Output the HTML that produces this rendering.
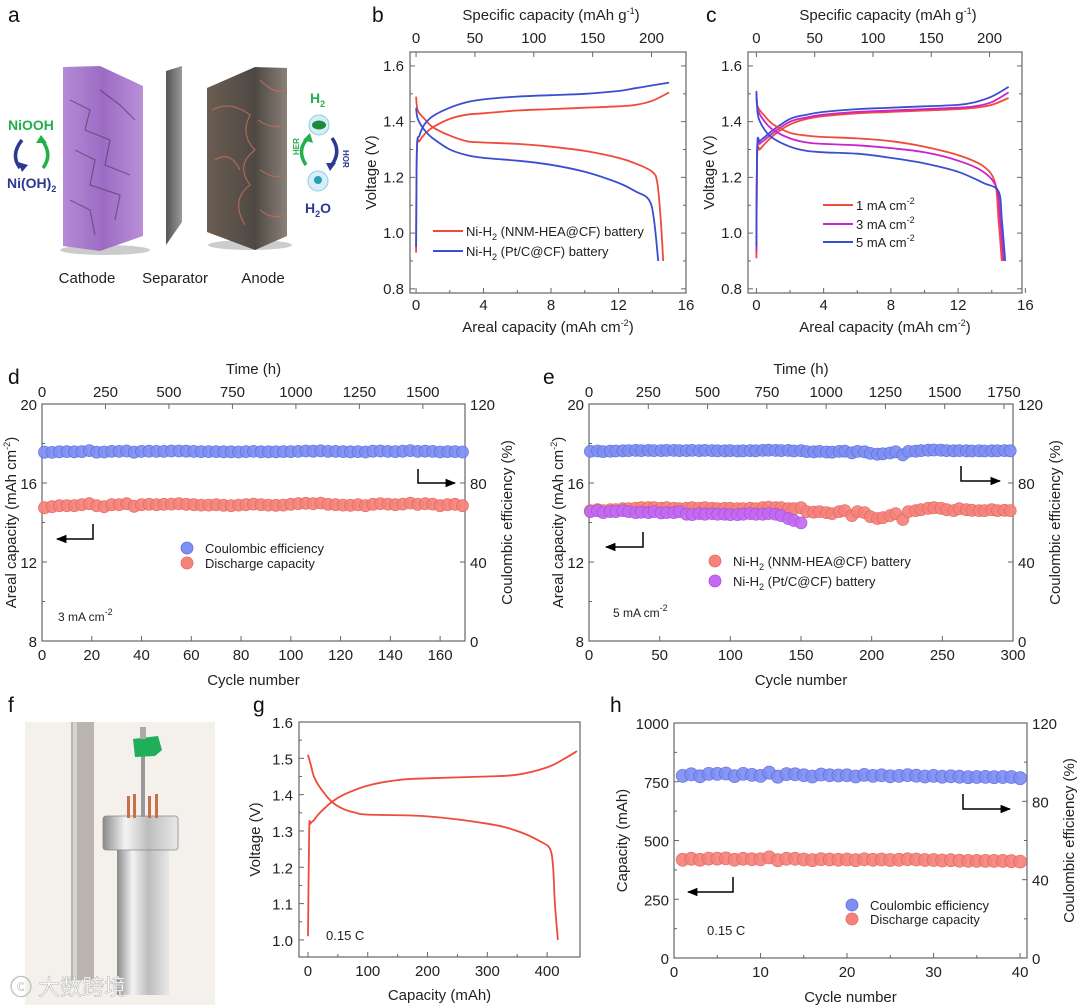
<!DOCTYPE html>
<html><head><meta charset="utf-8"><style>
html,body{margin:0;padding:0;background:#fff;}
svg{display:block;font-family:"Liberation Sans","Noto Sans CJK SC",sans-serif;}
</style></head><body>
<svg id="fig" width="1080" height="1005" viewBox="0 0 1080 1005" xmlns="http://www.w3.org/2000/svg">
<defs>
<linearGradient id="gCath" x1="0" x2="1"><stop offset="0" stop-color="#b58ad6"/><stop offset="0.5" stop-color="#9c6cc4"/><stop offset="1" stop-color="#b98fd8"/></linearGradient>
<linearGradient id="gSep" x1="0" x2="1"><stop offset="0" stop-color="#555"/><stop offset="1" stop-color="#999"/></linearGradient>
<linearGradient id="gAn" x1="0" x2="1"><stop offset="0" stop-color="#6b5d52"/><stop offset="0.6" stop-color="#4e4843"/><stop offset="1" stop-color="#8a8178"/></linearGradient>
<linearGradient id="gCyl" x1="0" x2="1"><stop offset="0" stop-color="#8a8a8a"/><stop offset="0.3" stop-color="#f4f4f4"/><stop offset="0.6" stop-color="#bdbdbd"/><stop offset="1" stop-color="#e8e8e8"/></linearGradient>
<marker id="ah" viewBox="0 0 10 10" refX="9" refY="5" markerWidth="7" markerHeight="7" orient="auto"><path d="M0,1 L10,5 L0,9 z" fill="#000"/></marker>
</defs>
<g font-size="21" fill="#111">
<text x="8" y="22">a</text>
<text x="372" y="22">b</text>
<text x="706" y="22">c</text>
<text x="8" y="384">d</text>
<text x="543" y="384">e</text>
<text x="8" y="712">f</text>
<text x="253" y="712">g</text>
<text x="610" y="712">h</text>
</g>
<g>
<ellipse cx="105" cy="250" rx="45" ry="5" fill="#ccc"/>
<polygon points="63,67 100,66 143,86 143,236 100,251 63,246" fill="url(#gCath)"/>
<g stroke="#4a3a55" stroke-width="1.2" fill="none" opacity="0.6">
<path d="M70,100 L90,110 L85,130 L110,140 L105,165 L130,175 M75,150 L95,160 L90,185 L120,195 L115,220 M100,90 L120,105 L135,120 M70,200 L90,210 L95,235"/>
</g>
<polygon points="166,71 182,66 182,222 166,245" fill="url(#gSep)"/>
<ellipse cx="250" cy="245" rx="42" ry="5" fill="#ccc"/>
<polygon points="207,88 255,67 287,68 287,236 255,250 207,232" fill="url(#gAn)"/>
<g stroke="#c0705a" stroke-width="1.3" fill="none" opacity="0.75">
<path d="M212,110 Q230,100 250,115 Q240,135 255,150 Q235,165 250,185 Q230,200 245,225 M215,160 Q230,150 240,170 M260,80 Q275,95 285,90 M258,120 Q272,130 284,125 M260,170 Q275,180 284,175 M260,210 Q272,220 284,215"/>
</g>
<text x="87" y="283" font-size="15" fill="#222" text-anchor="middle">Cathode</text>
<text x="175" y="283" font-size="15" fill="#222" text-anchor="middle">Separator</text>
<text x="263" y="283" font-size="15" fill="#222" text-anchor="middle">Anode</text>
<text x="8" y="130" font-size="14" font-weight="bold" fill="#21b04b">NiOOH</text>
<path d="M22,140 Q10,155 20,168" stroke="#2b3990" stroke-width="3.5" fill="none"/>
<path d="M18,162 L22,172 L28,165 z" fill="#2b3990"/>
<path d="M43,168 Q53,155 42,140" stroke="#21b04b" stroke-width="3.5" fill="none"/>
<path d="M36,143 L41,135 L47,143 z" fill="#21b04b"/>
<text x="7" y="188" font-size="14" font-weight="bold" fill="#2b3990">Ni(OH)<tspan dy="4" font-size="9">2</tspan></text>
<text x="310" y="103" font-size="14" font-weight="bold" fill="#21b04b">H<tspan dy="4" font-size="9">2</tspan></text>
<circle cx="319" cy="125" r="10" fill="#d6eef8" stroke="#8ccbe6"/>
<ellipse cx="319" cy="125" rx="7" ry="4.5" fill="#1b8a3a"/>
<circle cx="318" cy="181" r="10" fill="#d6eef8" stroke="#8ccbe6"/>
<circle cx="318" cy="180" r="4" fill="#2a9fb5"/>
<path d="M306,165 Q296,150 308,138" stroke="#21b04b" stroke-width="3.5" fill="none"/>
<path d="M303,140 L310,133 L313,143 z" fill="#21b04b"/>
<path d="M332,138 Q342,152 331,166" stroke="#2b3990" stroke-width="3.5" fill="none"/>
<path d="M326,163 L330,171 L336,163 z" fill="#2b3990"/>
<text x="294" y="160" font-size="8" font-weight="bold" fill="#21b04b" transform="rotate(-90 294 155)">HER</text>
<text x="343" y="150" font-size="8" font-weight="bold" fill="#2b3990" transform="rotate(90 343 150)">HOR</text>
<text x="305" y="213" font-size="14" font-weight="bold" fill="#2b3990">H<tspan dy="4" font-size="9">2</tspan><tspan dy="-4">O</tspan></text>
</g>
<g>
<rect x="25" y="722" width="190" height="283" fill="#f4f1ec"/>
<rect x="71" y="722" width="23" height="258" fill="#b9b4ae"/>
<rect x="73" y="722" width="4" height="258" fill="#d6d2cc"/>
<rect x="117" y="850" width="52" height="145" fill="url(#gCyl)"/>
<rect x="103" y="816" width="75" height="34" rx="3" fill="url(#gCyl)" stroke="#888" stroke-width="0.8"/>
<rect x="141" y="755" width="4" height="62" fill="#999"/>
<polygon points="133,739 158,736 162,750 155,756 135,757" fill="#1fae5a"/>
<rect x="140" y="727" width="6" height="12" fill="#aaa"/>
<rect x="127" y="796" width="3" height="22" fill="#c7704a"/><rect x="133" y="794" width="3" height="24" fill="#c7704a"/>
<rect x="148" y="796" width="3" height="22" fill="#c7704a"/><rect x="155" y="794" width="3" height="24" fill="#c7704a"/>
<text x="10" y="995" font-size="22" fill="#fff" stroke="#bbb" stroke-width="0.6">ⓒ 大数跨境</text>
</g>
<g id="charts"></g>
</svg>
<script>
const bNnmChargeX=[0,0.05,0.2,0.5,1,2,3,4,6,8,10,12,13,14,15];
const bNnmChargeV=[0.93,1.30,1.33,1.355,1.38,1.41,1.425,1.43,1.44,1.445,1.45,1.455,1.46,1.475,1.505];
const bNnmDisX=[0,0.1,0.5,1,2,3,4,6,8,10,12,13,14,14.3,14.5,14.65];
const bNnmDisV=[1.49,1.44,1.41,1.38,1.35,1.33,1.325,1.32,1.31,1.295,1.27,1.25,1.22,1.18,1.05,0.90];
const bPtChargeX=[0,0.05,0.2,0.5,1,2,3,4,6,8,10,12,13,14,15];
const bPtChargeV=[0.95,1.30,1.35,1.39,1.42,1.45,1.47,1.48,1.49,1.495,1.50,1.51,1.52,1.53,1.54];
const bPtDisX=[0,0.1,0.5,1,2,3,4,6,8,10,12,13,13.8,14.1,14.35];
const bPtDisV=[1.45,1.41,1.37,1.34,1.30,1.28,1.27,1.26,1.245,1.22,1.18,1.15,1.12,1.05,0.90];

const cChargeX=[0,0.05,0.2,0.5,1,2,3,4,6,8,10,12,13,14,15];
const c1ChargeV=[0.91,1.28,1.30,1.32,1.35,1.39,1.41,1.42,1.43,1.435,1.44,1.445,1.45,1.46,1.485];
const c3ChargeV=[0.93,1.30,1.32,1.335,1.36,1.40,1.415,1.425,1.435,1.44,1.445,1.45,1.455,1.47,1.505];
const c5ChargeV=[0.95,1.31,1.33,1.345,1.37,1.41,1.425,1.435,1.445,1.45,1.455,1.46,1.47,1.49,1.525];
const c1DisX=[0,0.1,0.5,1,2,3,4,6,8,10,12,13.5,14.2,14.4,14.6];
const c1DisV=[1.48,1.45,1.42,1.39,1.36,1.35,1.345,1.34,1.33,1.31,1.28,1.24,1.18,1.05,0.90];
const c3DisX=[0,0.1,0.5,1,2,3,4,6,8,10,12,13.5,14.3,14.5,14.7];
const c3DisV=[1.50,1.44,1.40,1.37,1.34,1.325,1.32,1.315,1.305,1.29,1.26,1.22,1.16,1.05,0.90];
const c5DisX=[0,0.1,0.5,1,2,3,4,6,8,10,12,13.5,14.4,14.6,14.8];
const c5DisV=[1.51,1.42,1.37,1.34,1.31,1.295,1.29,1.285,1.27,1.25,1.22,1.18,1.15,1.05,0.90];

const dCycles=[1,4,7,10,13,16,19,22,25,28,31,34,37,40,43,46,49,52,55,58,61,64,67,70,73,76,79,82,85,88,91,94,97,100,103,106,109,112,115,118,121,124,127,130,133,136,139,142,145,148,151,154,157,160,163,166,169];
const dCE=[95.6,95.5,95.8,95.9,95.8,95.9,96.4,95.6,95.7,96.0,96.0,96.2,95.6,96.0,96.1,96.0,96.0,96.2,96.2,96.1,96.0,95.9,95.9,95.9,95.8,95.8,95.7,95.9,96.0,95.8,95.8,95.8,95.9,95.9,96.0,96.2,96.1,96.3,96.0,96.0,95.9,95.8,95.9,95.7,96.1,96.2,96.0,95.9,96.1,96.4,96.0,96.1,96.0,95.7,95.9,95.9,95.7];
const dCap=[14.75,14.8,14.85,14.85,14.85,14.9,14.95,14.85,14.8,14.9,14.9,14.95,14.82,14.9,14.92,14.9,14.92,14.93,14.95,14.92,14.9,14.88,14.88,14.9,14.87,14.85,14.88,14.9,14.93,14.9,14.88,14.87,14.88,14.92,14.95,14.97,14.95,14.98,14.92,14.9,14.88,14.87,14.9,14.85,14.92,14.95,14.93,14.9,14.93,14.98,14.92,14.95,14.93,14.85,14.9,14.92,14.85];

const eCycles=[1,6,10,15,19,24,28,33,37,42,46,51,55,60,64,69,73,78,82,87,91,96,100,105,109,114,118,123,127,132,136,141,145,150,154,159,163,168,172,177,181,186,190,195,199,204,208,213,217,222,226,231,235,240,244,249,253,258,262,267,271,276,280,285,289,294,298];
const eCE=[96.0,96.2,95.9,96.1,96.2,96.3,96.4,96.5,96.4,96.5,
96.4,96.4,96.5,96.5,96.4,96.4,96.5,96.4,96.5,96.4,
96.3,96.3,96.4,96.2,96.3,96.4,96.3,96.5,96.6,96.5,
96.4,96.5,96.2,96.4,95.9,95.8,96.0,95.7,95.6,96.0,
96.1,95.3,96.0,95.8,95.0,94.6,94.8,95.2,95.8,94.3,
96.0,96.1,96.4,96.6,96.7,96.6,96.4,96.3,96.4,96.3,
96.2,96.3,96.2,96.3,96.3,96.4,96.3];
const eCap=[14.6,14.65,14.6,14.65,14.65,14.7,14.7,14.72,14.75,14.75,
14.75,14.72,14.75,14.72,14.7,14.72,14.75,14.72,14.75,14.72,
14.7,14.72,14.72,14.7,14.7,14.72,14.7,14.75,14.78,14.75,
14.75,14.7,14.7,14.75,14.55,14.52,14.55,14.5,14.45,14.55,
14.6,14.35,14.55,14.5,14.3,14.2,14.25,14.35,14.45,14.15,
14.55,14.6,14.65,14.72,14.75,14.72,14.65,14.6,14.7,14.65,
14.62,14.6,14.6,14.65,14.6,14.62,14.6];
const ePtCycles=[1,6,10,15,19,24,28,33,37,42,46,51,55,60,64,69,73,78,82,87,91,96,100,105,109,114,118,123,127,132,136,141,145,150];
const ePtCap=[14.55,14.6,14.5,14.55,14.55,14.6,14.55,14.5,14.52,14.5,
14.55,14.48,14.5,14.5,14.55,14.42,14.4,14.45,14.42,14.45,
14.42,14.42,14.4,14.4,14.42,14.45,14.42,14.42,14.45,14.42,
14.35,14.2,14.1,13.98];

const gChargeX=[0,2,4,10,20,40,60,100,150,200,300,350,400,430,450];
const gChargeV=[1.01,1.30,1.32,1.33,1.35,1.38,1.40,1.425,1.44,1.445,1.45,1.455,1.475,1.50,1.52];
const gDisX=[0,5,10,20,40,60,80,100,200,300,350,390,405,410,413,418];
const gDisV=[1.51,1.48,1.45,1.42,1.38,1.36,1.35,1.345,1.34,1.32,1.30,1.27,1.25,1.20,1.10,1.00];

const hCycles=[1,2,3,4,5,6,7,8,9,10,11,12,13,14,15,16,17,18,19,20,21,22,23,24,25,26,27,28,29,30,31,32,33,34,35,36,37,38,39,40];
const hCE=[93.0,93.8,92.8,94.0,94.0,94.2,92.9,94.0,93.5,93.0,94.6,92.6,93.9,93.8,93.3,92.7,93.7,93.3,93.2,93.3,92.7,93.5,93.0,93.3,92.8,93.0,93.4,93.1,92.7,93.0,92.6,92.8,92.6,92.3,92.4,92.5,92.3,92.4,92.4,91.8];
const hCap=[418,422,418,423,423,424,418,422,420,420,428,416,422,422,419,416,421,419,418,419,416,420,418,419,417,418,420,419,417,417,415,416,414,413,413,413,413,413,412,410];

const bcBottomTicks=[0,4,8,12,16];
const bcTopTicks=[0,50,100,150,200];
const bcYTicks=[0.8,1.0,1.2,1.4,1.6];
const deYTicks=[8,12,16,20];
const deYRTicks=[0,40,80,120];
const dXTicks=[0,20,40,60,80,100,120,140,160];
const dTimeTicks=[0,250,500,750,1000,1250,1500];
const eXTicks=[0,50,100,150,200,250,300];
const eTimeTicks=[0,250,500,750,1000,1250,1500,1750];
const gXTicks=[0,100,200,300,400];
const gYTicks=[1.0,1.1,1.2,1.3,1.4,1.5,1.6];
const hXTicks=[0,10,20,30,40];
const hYTicks=[0,250,500,750,1000];
const hYRTicks=[0,40,80,120];

const NS='http://www.w3.org/2000/svg';
const root=document.getElementById('charts');
function mk(tag,attrs,parent){const e=document.createElementNS(NS,tag);for(const k in attrs)e.setAttribute(k,attrs[k]);(parent||root).appendChild(e);return e;}
function scale(d0,d1,p0,p1){return v=>p0+(v-d0)/(d1-d0)*(p1-p0);}
function fmt(v,dec){return dec?v.toFixed(dec):String(v);}
function label(g,x,y,s,anchor,size){const t=mk('text',{x:x,y:y,'font-size':size||15,fill:'#222','text-anchor':anchor||'middle'},g);t.textContent=s;return t;}
function frame(g,L,R,T,B){
  const r=mk('rect',{x:L,y:T,width:R-L,height:B-T,fill:'none',stroke:'#666','stroke-width':1.2},g);
  
  
}
function tickX(g,x,T,B,top,len){mk('line',{x1:x,x2:x,y1:B,y2:B-len,stroke:'#666'},g);if(top)mk('line',{x1:x,x2:x,y1:T,y2:T+len,stroke:'#666'},g);}
function tickY(g,y,L,R,right,len){mk('line',{x1:L,x2:L+len,y1:y,y2:y,stroke:'#666'},g);if(right)mk('line',{x1:R,x2:R-len,y1:y,y2:y,stroke:'#666'},g);}
function curve(g,xs,ys,X,Y,color,name){
  const P=xs.map((x,i)=>[X(x),Y(ys[i])]);
  let d='M'+P[0][0].toFixed(1)+','+P[0][1].toFixed(1);
  for(let i=0;i<P.length-1;i++){
    const p0=P[i-1]||P[i],p1=P[i],p2=P[i+1],p3=P[i+2]||P[i+1];
    const c1=[p1[0]+(p2[0]-p0[0])/6,p1[1]+(p2[1]-p0[1])/6];
    const c2=[p2[0]-(p3[0]-p1[0])/6,p2[1]-(p3[1]-p1[1])/6];
    d+='C'+c1[0].toFixed(1)+','+c1[1].toFixed(1)+' '+c2[0].toFixed(1)+','+c2[1].toFixed(1)+' '+p2[0].toFixed(1)+','+p2[1].toFixed(1);
  }
  const p=mk('path',{d:d,fill:'none',stroke:color,'stroke-width':1.8,'stroke-linejoin':'round'},g);
  
  
}
function dots(g,xs,ys,X,Y,fill,stroke,r,name){
  for(let i=0;i<xs.length;i++){
    const c=mk('circle',{cx:X(xs[i]).toFixed(1),cy:Y(ys[i]).toFixed(1),r:r,fill:fill,stroke:stroke,'stroke-width':0.8,opacity:0.92},g);
    
    
  }
}
function rotTitle(g,x,y,html,name){const t=mk('text',{x:x,y:y,'font-size':15,fill:'#222','text-anchor':'middle',transform:`rotate(-90 ${x} ${y})`},g);t.innerHTML=html;return t;}
function arrow(g,vx,vy0,vy1,hx,name){
  const p=mk('path',{d:`M${vx},${vy0} L${vx},${vy1} L${hx},${vy1}`,fill:'none',stroke:'#000','stroke-width':1.5,'marker-end':'url(#ah)'},g);
  
  
}
function legLine(g,x,y,color,html,name){
  mk('line',{x1:x,x2:x+30,y1:y,y2:y,stroke:color,'stroke-width':2},g);
  const t=mk('text',{x:x+33,y:y+5,'font-size':13,fill:'#222'},g);t.innerHTML=html;
  
  
}
function legDot(g,x,y,fill,stroke,html,name){
  mk('circle',{cx:x,cy:y,r:6,fill:fill,stroke:stroke,'stroke-width':0.8},g);
  const t=mk('text',{x:x+18,y:y+5,'font-size':13,fill:'#222'},g);t.innerHTML=html;
  
  
}
function sup2(rest){return '<tspan dy="-6" font-size="9">-2</tspan><tspan dy="6">'+(rest||'\u200b')+'</tspan>';}
const SUB2='<tspan dy="4" font-size="9">2</tspan><tspan dy="-4">\u200b</tspan>';

function voltagePanel(name,L,R,T,B,xd0,xd1,spec){
  const g=mk('g',{});
  
  
  const X=scale(xd0,xd1,L,R), Y=scale(0.785,1.65,B,T);
  frame(g,L,R,T,B);
  bcBottomTicks.forEach(v=>{tickX(g,X(v),T,B,false,5);label(g,X(v),B+17,fmt(v));});
  for(let v=2;v<16;v+=4)tickX(g,X(v),T,B,false,3);
  bcTopTicks.forEach(v=>{mk('line',{x1:X(v/spec),x2:X(v/spec),y1:T,y2:T+5,stroke:'#666'},g);label(g,X(v/spec),T-9,fmt(v));});
  bcYTicks.forEach(v=>{tickY(g,Y(v),L,R,true,5);label(g,L-6,Y(v)+5,fmt(v,1),'end');});
  [0.9,1.1,1.3,1.5].forEach(v=>tickY(g,Y(v),L,R,true,3));
  const xt=mk('text',{x:(L+R)/2,y:B+39,'font-size':15,fill:'#222','text-anchor':'middle'},g);
  xt.innerHTML='Areal capacity (mAh cm'+sup2(')');
  
  
  const tt=mk('text',{x:(L+R)/2+3,y:T-32,'font-size':15,fill:'#222','text-anchor':'middle'},g);
  tt.innerHTML='Specific capacity (mAh g<tspan dy="-6" font-size="9">-1</tspan><tspan dy="6">)</tspan>';
  
  
  rotTitle(g,L-34,(T+B)/2,'Voltage (V)','y-axis-title');
  return {g,X,Y};
}
(function(){
  const p=voltagePanel('panel-b',410,686,52,293,-0.36,16,14.33);
  curve(p.g,bNnmChargeX,bNnmChargeV,p.X,p.Y,'#f04a3a','nnm-charge-curve');
  curve(p.g,bNnmDisX,bNnmDisV,p.X,p.Y,'#f04a3a','nnm-discharge-curve');
  curve(p.g,bPtChargeX,bPtChargeV,p.X,p.Y,'#3a4fd0','pt-charge-curve');
  curve(p.g,bPtDisX,bPtDisV,p.X,p.Y,'#3a4fd0','pt-discharge-curve');
  legLine(p.g,433,231,'#f04a3a','Ni-H'+SUB2+' (NNM-HEA@CF) battery','legend-nnm');
  legLine(p.g,433,251,'#3a4fd0','Ni-H'+SUB2+' (Pt/C@CF) battery','legend-pt');
})();
(function(){
  const p=voltagePanel('panel-c',748,1022,52,293,-0.5,15.8,14.42);
  curve(p.g,cChargeX,c1ChargeV,p.X,p.Y,'#f04a3a','charge-1ma');
  curve(p.g,cChargeX,c3ChargeV,p.X,p.Y,'#cc22cc','charge-3ma');
  curve(p.g,cChargeX,c5ChargeV,p.X,p.Y,'#3a4fd0','charge-5ma');
  curve(p.g,c1DisX,c1DisV,p.X,p.Y,'#f04a3a','discharge-1ma');
  curve(p.g,c3DisX,c3DisV,p.X,p.Y,'#cc22cc','discharge-3ma');
  curve(p.g,c5DisX,c5DisV,p.X,p.Y,'#3a4fd0','discharge-5ma');
  legLine(p.g,823,205,'#f04a3a','1 mA cm'+sup2(),'legend-1ma');
  legLine(p.g,823,224,'#cc22cc','3 mA cm'+sup2(),'legend-3ma');
  legLine(p.g,823,242,'#3a4fd0','5 mA cm'+sup2(),'legend-5ma');
})();

function cyclePanel(name,L,R,T,B,xmax,xticks,timeTicks,hPerCycle){
  const g=mk('g',{});
  
  
  const X=scale(0,xmax,L,R), Y=scale(8,20,B,T), YR=scale(0,120,B,T);
  frame(g,L,R,T,B);
  xticks.forEach(v=>{tickX(g,X(v),T,B,false,5);label(g,X(v),B+19,fmt(v));});
  timeTicks.forEach(v=>{mk('line',{x1:X(v/hPerCycle),x2:X(v/hPerCycle),y1:T,y2:T+5,stroke:'#666'},g);label(g,X(v/hPerCycle),T-7,fmt(v));});
  deYTicks.forEach(v=>{tickY(g,Y(v),L,R,false,5);label(g,L-5,Y(v)+6,fmt(v),'end');});
  [10,14,18].forEach(v=>tickY(g,Y(v),L,R,false,3));
  deYRTicks.forEach(v=>{mk('line',{x1:R,x2:R-5,y1:YR(v),y2:YR(v),stroke:'#666'},g);label(g,R+5,YR(v)+6,fmt(v),'start');});
  label(g,(L+R)/2,B+44,'Cycle number');
  label(g,(L+R)/2,T-30,'Time (h)');
  rotTitle(g,L-26,(T+B)/2,'Areal capacity (mAh cm'+sup2(')'),'left-y-axis-title');
  rotTitle(g,R+47,(T+B)/2,'Coulombic efficiency (%)','right-y-axis-title');
  return {g,X,Y,YR};
}
(function(){
  const p=cyclePanel('panel-d',42,465,404,641,170,dXTicks,dTimeTicks,9.8);
  dots(p.g,dCycles,dCap,p.X,p.Y,'#f5837b','#e5675f',6,'discharge-capacity-point');
  dots(p.g,dCycles,dCE,p.X,p.YR,'#7d8ff2','#5d70e0',6,'coulombic-efficiency-point');
  arrow(p.g,418,469,483,455,'ce-axis-arrow');
  arrow(p.g,93,524,539,57,'capacity-axis-arrow');
  legDot(p.g,187,548,'#7d8ff2','#5d70e0','Coulombic efficiency','legend-ce');
  legDot(p.g,187,563,'#f5837b','#e5675f','Discharge capacity','legend-capacity');
  const t=mk('text',{x:58,y:621,'font-size':12,fill:'#222'},p.g);
  t.innerHTML='3 mA cm'+sup2();
  
  
})();
(function(){
  const p=cyclePanel('panel-e',589,1013,404,641,300,eXTicks,eTimeTicks,5.96);
  dots(p.g,eCycles,eCap,p.X,p.Y,'#f5837b','#e5675f',6,'nnm-capacity-point');
  dots(p.g,ePtCycles,ePtCap,p.X,p.Y,'#c46af2','#a84fe0',6,'pt-capacity-point');
  dots(p.g,eCycles,eCE,p.X,p.YR,'#7d8ff2','#5d70e0',6,'coulombic-efficiency-point');
  arrow(p.g,961,466,481,1000,'ce-axis-arrow');
  arrow(p.g,643,532,547,606,'capacity-axis-arrow');
  legDot(p.g,715,561,'#f5837b','#e5675f','Ni-H'+SUB2+' (NNM-HEA@CF) battery','legend-nnm');
  legDot(p.g,715,581,'#c46af2','#a84fe0','Ni-H'+SUB2+' (Pt/C@CF) battery','legend-pt');
  const t=mk('text',{x:613,y:617,'font-size':12,fill:'#222'},p.g);
  t.innerHTML='5 mA cm'+sup2();
  
  
})();

(function(){
  const L=299,R=580,T=722,B=957;
  const g=mk('g',{});
  
  
  const X=scale(-15,455,L,R), Y=scale(0.953,1.6,B,T);
  frame(g,L,R,T,B);
  gXTicks.forEach(v=>{tickX(g,X(v),T,B,false,5);label(g,X(v),B+19,fmt(v));});
  [50,150,250,350].forEach(v=>tickX(g,X(v),T,B,false,3));
  gYTicks.forEach(v=>{tickY(g,Y(v),L,R,false,5);label(g,L-6,Y(v)+6,fmt(v,1),'end');});
  [1.05,1.15,1.25,1.35,1.45,1.55].forEach(v=>tickY(g,Y(v),L,R,false,3));
  label(g,(L+R)/2,B+43,'Capacity (mAh)');
  rotTitle(g,L-39,(T+B)/2,'Voltage (V)','y-axis-title');
  curve(g,gChargeX,gChargeV,X,Y,'#f04a3a','charge-curve');
  curve(g,gDisX,gDisV,X,Y,'#f04a3a','discharge-curve');
  const t=label(g,326,940,'0.15 C','start',13);
  
  
})();

(function(){
  const L=674,R=1027,T=723,B=958;
  const g=mk('g',{});
  
  
  const X=scale(0,40.8,L,R), Y=scale(0,1000,B,T), YR=scale(0,120,B,T);
  frame(g,L,R,T,B);
  hXTicks.forEach(v=>{tickX(g,X(v),T,B,false,5);label(g,X(v),B+19,fmt(v));});
  [5,15,25,35].forEach(v=>tickX(g,X(v),T,B,false,3));
  hYTicks.forEach(v=>{tickY(g,Y(v),L,R,false,5);label(g,L-5,Y(v)+6,fmt(v),'end');});
  [125,375,625,875].forEach(v=>tickY(g,Y(v),L,R,false,3));
  hYRTicks.forEach(v=>{mk('line',{x1:R,x2:R-5,y1:YR(v),y2:YR(v),stroke:'#666'},g);label(g,R+5,YR(v)+6,fmt(v),'start');});
  [20,60,100].forEach(v=>mk('line',{x1:R,x2:R-3,y1:YR(v),y2:YR(v),stroke:'#666'},g));
  label(g,(L+R)/2,B+44,'Cycle number');
  rotTitle(g,L-47,(T+B)/2,'Capacity (mAh)','left-y-axis-title');
  rotTitle(g,R+47,(T+B)/2,'Coulombic efficiency (%)','right-y-axis-title');
  dots(g,hCycles,hCap,X,Y,'#f5837b','#e5675f',6.5,'discharge-capacity-point');
  dots(g,hCycles,hCE,X,YR,'#7d8ff2','#5d70e0',6.5,'coulombic-efficiency-point');
  arrow(g,963,794,809,1010,'ce-axis-arrow');
  arrow(g,733,877,892,688,'capacity-axis-arrow');
  legDot(g,852,905,'#7d8ff2','#5d70e0','Coulombic efficiency','legend-ce');
  legDot(g,852,919,'#f5837b','#e5675f','Discharge capacity','legend-capacity');
  const t=label(g,707,935,'0.15 C','start',13);
  
  
})();
</script>
</body></html>
